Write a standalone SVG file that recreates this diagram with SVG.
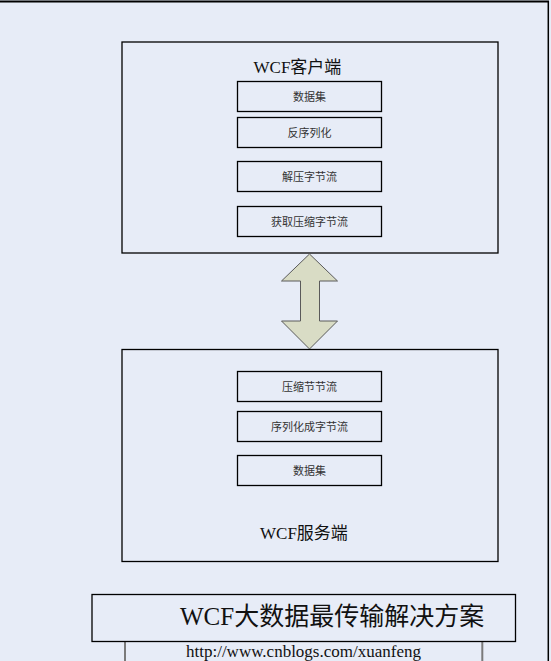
<svg xmlns="http://www.w3.org/2000/svg" width="551" height="661" viewBox="0 0 551 661">
<style>
.bg{fill:#e7ecf7}
.box{fill:#e7ecf7;stroke:#000;stroke-width:1.3}
.step{font-family:"Liberation Serif","Noto Sans CJK SC",serif;font-size:11px;fill:#333;text-anchor:middle}
.title{font-family:"Liberation Serif","Noto Sans CJK SC",serif;font-size:17px;fill:#111}
.big{font-family:"Liberation Serif","Noto Sans CJK SC",serif;font-size:25px;fill:#111}
.url{font-family:"Liberation Serif","Noto Sans CJK SC",serif;font-size:17px;fill:#111}
</style>
<rect class="bg" x="0" y="0" width="551" height="661"/>
<line x1="0" y1="1.5" x2="549" y2="1.5" stroke="#000" stroke-width="1.8"/>
<line x1="548.3" y1="1" x2="548.3" y2="661" stroke="#000" stroke-width="1.5"/>

<g id="client">
<rect class="box" x="122" y="42" width="376" height="211"/>
<text class="title" x="253.5" y="72.5">WCF客户端</text>
</g>
<g id="c1"><rect class="box" x="237.5" y="81.5" width="144" height="30"/><text class="step" x="309.5" y="100.5">数据集</text></g>
<g id="c2"><rect class="box" x="237.5" y="117.5" width="144" height="30"/><text class="step" x="309.5" y="136.5">反序列化</text></g>
<g id="c3"><rect class="box" x="237.5" y="161.5" width="144" height="30"/><text class="step" x="309.5" y="180.5">解压字节流</text></g>
<g id="c4"><rect class="box" x="237.5" y="206.5" width="144" height="30"/><text class="step" x="309.5" y="225.5">获取压缩字节流</text></g>

<g id="server">
<rect class="box" x="122" y="349.5" width="376" height="212"/>
<text class="title" x="260" y="539">WCF服务端</text>
</g>
<g id="s1"><rect class="box" x="237.5" y="371.5" width="144" height="30"/><text class="step" x="309.5" y="390.5">压缩节节流</text></g>
<g id="s2"><rect class="box" x="237.5" y="411.5" width="144" height="30"/><text class="step" x="309.5" y="430.5">序列化成字节流</text></g>
<g id="s3"><rect class="box" x="237.5" y="455.5" width="144" height="30"/><text class="step" x="309.5" y="474.5">数据集</text></g>

<g id="connectors">
<polygon points="309.5,254 337.5,281 319.5,281 319.5,321 337.5,321 309.5,349 281.5,321 300.5,321 300.5,281 281.5,281" fill="#d9dcc5" stroke="#5a5a5a" stroke-width="1"/>
</g>

<g id="footer">
<line x1="125" y1="641" x2="125" y2="661" stroke="#7a7a7a" stroke-width="2"/>
<line x1="482.3" y1="641" x2="482.3" y2="661" stroke="#7a7a7a" stroke-width="2"/>
<rect class="box" x="92" y="594.5" width="423.5" height="47"/>
<text class="big" x="180" y="625">WCF大数据最传输解决方案</text>
<text class="url" x="186" y="657">http://www.cnblogs.com/xuanfeng</text>
</g>
</svg>
